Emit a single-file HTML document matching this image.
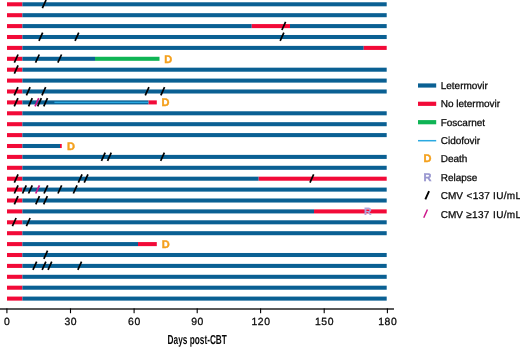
<!DOCTYPE html>
<html lang="en">
<head>
<meta charset="utf-8">
<title>Letermovir swimmer plot</title>
<style>
html,body{margin:0;padding:0;background:#fff;}
body{width:520px;height:348px;overflow:hidden;}
svg{display:block;}
text{font-family:"Liberation Sans",Arial,Helvetica,sans-serif;fill:#0a0a0a;text-rendering:geometricPrecision;}
.lg,.tk{stroke:#0a0a0a;stroke-width:0.27px;}
.lg{font-size:10px;}
.tk{font-size:10.4px;text-anchor:middle;letter-spacing:0.6px;}
.mk{font-size:11px;font-weight:bold;stroke-width:0.4px;}
</style>
</head>
<body>
<svg width="520" height="348" viewBox="0 0 520 348">
<rect x="0" y="0" width="520" height="348" fill="#ffffff"/>

<g id="bars">
<rect x="7.00" y="2.27" width="15.40" height="4.05" fill="#f20a38"/>
<rect x="22.40" y="2.27" width="364.30" height="4.05" fill="#0a6093"/>
<rect x="7.00" y="13.17" width="15.40" height="4.05" fill="#f20a38"/>
<rect x="22.40" y="13.17" width="364.30" height="4.05" fill="#0a6093"/>
<rect x="7.00" y="24.08" width="15.40" height="4.05" fill="#f20a38"/>
<rect x="22.40" y="24.08" width="229.35" height="4.05" fill="#0a6093"/>
<rect x="251.75" y="24.08" width="38.25" height="4.05" fill="#f20a38"/>
<rect x="290.00" y="24.08" width="96.70" height="4.05" fill="#0a6093"/>
<rect x="7.00" y="34.98" width="15.40" height="4.05" fill="#f20a38"/>
<rect x="22.40" y="34.98" width="364.30" height="4.05" fill="#0a6093"/>
<rect x="7.00" y="45.88" width="15.40" height="4.05" fill="#f20a38"/>
<rect x="22.40" y="45.88" width="341.35" height="4.05" fill="#0a6093"/>
<rect x="363.75" y="45.88" width="22.95" height="4.05" fill="#f20a38"/>
<rect x="7.00" y="56.77" width="15.40" height="4.05" fill="#f20a38"/>
<rect x="22.40" y="56.77" width="72.60" height="4.05" fill="#0a6093"/>
<rect x="95.00" y="56.77" width="64.50" height="4.05" fill="#0fb455"/>
<rect x="7.00" y="67.67" width="15.40" height="4.05" fill="#f20a38"/>
<rect x="22.40" y="67.67" width="364.30" height="4.05" fill="#0a6093"/>
<rect x="7.00" y="78.57" width="15.40" height="4.05" fill="#f20a38"/>
<rect x="22.40" y="78.57" width="364.30" height="4.05" fill="#0a6093"/>
<rect x="7.00" y="89.47" width="15.40" height="4.05" fill="#f20a38"/>
<rect x="22.40" y="89.47" width="364.30" height="4.05" fill="#0a6093"/>
<rect x="7.00" y="100.38" width="15.40" height="4.05" fill="#f20a38"/>
<rect x="22.40" y="100.38" width="126.10" height="4.05" fill="#0a6093"/>
<rect x="148.50" y="100.38" width="8.30" height="4.05" fill="#f20a38"/>
<rect x="54.40" y="101.70" width="94.10" height="1.4" fill="#2aa9e1"/>
<rect x="7.00" y="111.27" width="15.40" height="4.05" fill="#f20a38"/>
<rect x="22.40" y="111.27" width="364.30" height="4.05" fill="#0a6093"/>
<rect x="7.00" y="122.17" width="15.40" height="4.05" fill="#f20a38"/>
<rect x="22.40" y="122.17" width="364.30" height="4.05" fill="#0a6093"/>
<rect x="7.00" y="133.08" width="15.40" height="4.05" fill="#f20a38"/>
<rect x="22.40" y="133.08" width="364.30" height="4.05" fill="#0a6093"/>
<rect x="7.00" y="143.98" width="15.40" height="4.05" fill="#f20a38"/>
<rect x="22.40" y="143.98" width="37.60" height="4.05" fill="#0a6093"/>
<rect x="60.00" y="143.98" width="1.75" height="4.05" fill="#f20a38"/>
<rect x="7.00" y="154.88" width="15.40" height="4.05" fill="#f20a38"/>
<rect x="22.40" y="154.88" width="364.30" height="4.05" fill="#0a6093"/>
<rect x="7.00" y="165.78" width="15.40" height="4.05" fill="#f20a38"/>
<rect x="22.40" y="165.78" width="364.30" height="4.05" fill="#0a6093"/>
<rect x="7.00" y="176.68" width="15.40" height="4.05" fill="#f20a38"/>
<rect x="22.40" y="176.68" width="236.30" height="4.05" fill="#0a6093"/>
<rect x="258.70" y="176.68" width="128.00" height="4.05" fill="#f20a38"/>
<rect x="7.00" y="187.58" width="15.40" height="4.05" fill="#f20a38"/>
<rect x="22.40" y="187.58" width="364.30" height="4.05" fill="#0a6093"/>
<rect x="7.00" y="198.48" width="15.40" height="4.05" fill="#f20a38"/>
<rect x="22.40" y="198.48" width="364.30" height="4.05" fill="#0a6093"/>
<rect x="7.00" y="209.38" width="15.40" height="4.05" fill="#f20a38"/>
<rect x="22.40" y="209.38" width="291.60" height="4.05" fill="#0a6093"/>
<rect x="314.00" y="209.38" width="72.70" height="4.05" fill="#f20a38"/>
<rect x="7.00" y="220.28" width="15.40" height="4.05" fill="#f20a38"/>
<rect x="22.40" y="220.28" width="364.30" height="4.05" fill="#0a6093"/>
<rect x="7.00" y="231.18" width="15.40" height="4.05" fill="#f20a38"/>
<rect x="22.40" y="231.18" width="364.30" height="4.05" fill="#0a6093"/>
<rect x="7.00" y="242.08" width="15.40" height="4.05" fill="#f20a38"/>
<rect x="22.40" y="242.08" width="115.60" height="4.05" fill="#0a6093"/>
<rect x="138.00" y="242.08" width="18.80" height="4.05" fill="#f20a38"/>
<rect x="7.00" y="252.98" width="15.40" height="4.05" fill="#f20a38"/>
<rect x="22.40" y="252.98" width="364.30" height="4.05" fill="#0a6093"/>
<rect x="7.00" y="263.88" width="15.40" height="4.05" fill="#f20a38"/>
<rect x="22.40" y="263.88" width="364.30" height="4.05" fill="#0a6093"/>
<rect x="7.00" y="274.78" width="15.40" height="4.05" fill="#f20a38"/>
<rect x="22.40" y="274.78" width="364.30" height="4.05" fill="#0a6093"/>
<rect x="7.00" y="285.68" width="15.40" height="4.05" fill="#f20a38"/>
<rect x="22.40" y="285.68" width="364.30" height="4.05" fill="#0a6093"/>
<rect x="7.00" y="296.58" width="15.40" height="4.05" fill="#f20a38"/>
<rect x="22.40" y="296.58" width="364.30" height="4.05" fill="#0a6093"/>
</g>
<g id="marks">
<line x1="42.35" y1="8.20" x2="46.05" y2="0.00" stroke="#000" stroke-width="1.7"/>
<line x1="281.90" y1="30.00" x2="285.60" y2="21.80" stroke="#000" stroke-width="1.7"/>
<line x1="38.95" y1="40.90" x2="42.65" y2="32.70" stroke="#000" stroke-width="1.7"/>
<line x1="75.05" y1="40.90" x2="78.75" y2="32.70" stroke="#000" stroke-width="1.7"/>
<line x1="280.15" y1="40.90" x2="283.85" y2="32.70" stroke="#000" stroke-width="1.7"/>
<line x1="14.35" y1="62.70" x2="18.05" y2="54.50" stroke="#000" stroke-width="1.7"/>
<line x1="35.55" y1="62.70" x2="39.25" y2="54.50" stroke="#000" stroke-width="1.7"/>
<line x1="57.85" y1="62.70" x2="61.55" y2="54.50" stroke="#000" stroke-width="1.7"/>
<text class="mk" x="164.20" y="62.60" style="fill:#f4a01c;stroke:#f4a01c">D</text>
<line x1="14.35" y1="73.60" x2="18.05" y2="65.40" stroke="#000" stroke-width="1.7"/>
<line x1="14.25" y1="95.40" x2="17.95" y2="87.20" stroke="#000" stroke-width="1.7"/>
<line x1="26.40" y1="95.40" x2="30.10" y2="87.20" stroke="#000" stroke-width="1.7"/>
<line x1="41.95" y1="95.40" x2="45.65" y2="87.20" stroke="#000" stroke-width="1.7"/>
<line x1="145.25" y1="95.40" x2="148.95" y2="87.20" stroke="#000" stroke-width="1.7"/>
<line x1="160.85" y1="95.40" x2="164.55" y2="87.20" stroke="#000" stroke-width="1.7"/>
<line x1="14.25" y1="106.30" x2="17.95" y2="98.10" stroke="#000" stroke-width="1.7"/>
<line x1="28.55" y1="106.30" x2="32.25" y2="98.10" stroke="#000" stroke-width="1.7"/>
<line x1="35.05" y1="106.30" x2="38.75" y2="98.10" stroke="#cc178a" stroke-width="1.7"/>
<line x1="37.65" y1="106.30" x2="41.35" y2="98.10" stroke="#000" stroke-width="1.7"/>
<line x1="43.75" y1="106.30" x2="47.45" y2="98.10" stroke="#000" stroke-width="1.7"/>
<text class="mk" x="161.40" y="106.20" style="fill:#f4a01c;stroke:#f4a01c">D</text>
<text class="mk" x="67.00" y="149.80" style="fill:#f4a01c;stroke:#f4a01c">D</text>
<line x1="101.45" y1="160.80" x2="105.15" y2="152.60" stroke="#000" stroke-width="1.7"/>
<line x1="107.55" y1="160.80" x2="111.25" y2="152.60" stroke="#000" stroke-width="1.7"/>
<line x1="160.65" y1="160.80" x2="164.35" y2="152.60" stroke="#000" stroke-width="1.7"/>
<line x1="14.35" y1="182.60" x2="18.05" y2="174.40" stroke="#000" stroke-width="1.7"/>
<line x1="78.35" y1="182.60" x2="82.05" y2="174.40" stroke="#000" stroke-width="1.7"/>
<line x1="84.25" y1="182.60" x2="87.95" y2="174.40" stroke="#000" stroke-width="1.7"/>
<line x1="309.95" y1="182.60" x2="313.65" y2="174.40" stroke="#000" stroke-width="1.7"/>
<line x1="14.35" y1="193.50" x2="18.05" y2="185.30" stroke="#000" stroke-width="1.7"/>
<line x1="22.55" y1="193.50" x2="26.25" y2="185.30" stroke="#000" stroke-width="1.7"/>
<line x1="28.55" y1="193.50" x2="32.25" y2="185.30" stroke="#000" stroke-width="1.7"/>
<line x1="35.75" y1="193.50" x2="39.45" y2="185.30" stroke="#cc178a" stroke-width="1.7"/>
<line x1="44.05" y1="193.50" x2="47.75" y2="185.30" stroke="#000" stroke-width="1.7"/>
<line x1="57.95" y1="193.50" x2="61.65" y2="185.30" stroke="#000" stroke-width="1.7"/>
<line x1="73.35" y1="193.50" x2="77.05" y2="185.30" stroke="#000" stroke-width="1.7"/>
<line x1="14.35" y1="204.40" x2="18.05" y2="196.20" stroke="#000" stroke-width="1.7"/>
<line x1="35.75" y1="204.40" x2="39.45" y2="196.20" stroke="#000" stroke-width="1.7"/>
<line x1="43.65" y1="204.40" x2="47.35" y2="196.20" stroke="#000" stroke-width="1.7"/>
<text class="mk" x="364.00" y="215.10" style="fill:#b0a4da;stroke:#b0a4da;stroke-width:0.2px;font-size:10.6px">R</text>
<line x1="12.40" y1="226.20" x2="16.10" y2="218.00" stroke="#000" stroke-width="1.7"/>
<line x1="26.40" y1="226.20" x2="30.10" y2="218.00" stroke="#000" stroke-width="1.7"/>
<text class="mk" x="161.75" y="247.90" style="fill:#f4a01c;stroke:#f4a01c">D</text>
<line x1="43.85" y1="258.90" x2="47.55" y2="250.70" stroke="#000" stroke-width="1.7"/>
<line x1="32.95" y1="269.80" x2="36.65" y2="261.60" stroke="#000" stroke-width="1.7"/>
<line x1="42.15" y1="269.80" x2="45.85" y2="261.60" stroke="#000" stroke-width="1.7"/>
<line x1="48.05" y1="269.80" x2="51.75" y2="261.60" stroke="#000" stroke-width="1.7"/>
<line x1="77.85" y1="269.80" x2="81.55" y2="261.60" stroke="#000" stroke-width="1.7"/>
</g>
<g id="axis">
<rect x="0" y="308.35" width="394" height="1.3" fill="#000"/>
<rect x="6.35" y="308.4" width="1.1" height="4.8" fill="#000"/>
<text class="tk" x="7.25" y="325.1">0</text>
<rect x="69.95" y="308.4" width="1.1" height="4.8" fill="#000"/>
<text class="tk" x="70.85" y="325.1">30</text>
<rect x="133.55" y="308.4" width="1.1" height="4.8" fill="#000"/>
<text class="tk" x="134.45" y="325.1">60</text>
<rect x="196.65" y="308.4" width="1.1" height="4.8" fill="#000"/>
<text class="tk" x="197.55" y="325.1">90</text>
<rect x="260.05" y="308.4" width="1.1" height="4.8" fill="#000"/>
<text class="tk" x="260.95" y="325.1">120</text>
<rect x="323.65" y="308.4" width="1.1" height="4.8" fill="#000"/>
<text class="tk" x="324.55" y="325.1">150</text>
<rect x="386.85" y="308.4" width="1.1" height="4.8" fill="#000"/>
<text class="tk" x="387.75" y="325.1">180</text>
<text x="167.6" y="344.45" font-size="13" font-weight="bold" textLength="59.3" lengthAdjust="spacingAndGlyphs">Days post-CBT</text>
</g>
<g id="legend">
<rect x="418" y="83.40" width="18.2" height="4.2" fill="#0a6093"/>
<rect x="418" y="101.70" width="18.2" height="4.2" fill="#f20a38"/>
<rect x="418" y="120.10" width="18.2" height="4.2" fill="#0fb455"/>
<rect x="418" y="139.95" width="18.2" height="1.5" fill="#2aa9e1"/>
<text class="mk" x="423.5" y="162.20" style="fill:#f4a01c;stroke:#f4a01c">D</text>
<text class="mk" x="423.5" y="180.60" style="fill:#9896cf;stroke:#9896cf">R</text>
<line x1="425.35" y1="199.40" x2="429.05" y2="191.20" stroke="#000" stroke-width="1.9"/>
<line x1="423.75" y1="217.70" x2="427.45" y2="209.50" stroke="#cc178a" stroke-width="1.5"/>
<text class="lg" x="440.7" y="89.10">Letermovir</text>
<text class="lg" x="440.7" y="107.40">No letermovir</text>
<text class="lg" x="440.7" y="125.80">Foscarnet</text>
<text class="lg" x="440.7" y="144.10">Cidofovir</text>
<text class="lg" x="440.7" y="162.40">Death</text>
<text class="lg" x="440.7" y="180.80">Relapse</text>
<text class="lg" x="440.7" y="199.10">CMV <tspan x="466.5" letter-spacing="0.3">&lt;137</tspan> <tspan x="493" letter-spacing="0.35">IU/mL</tspan></text>
<text class="lg" x="440.7" y="217.60">CMV <tspan x="466.3" letter-spacing="0.3">≥137</tspan> <tspan x="493" letter-spacing="0.35">IU/mL</tspan></text>
</g>
</svg>
</body>
</html>
